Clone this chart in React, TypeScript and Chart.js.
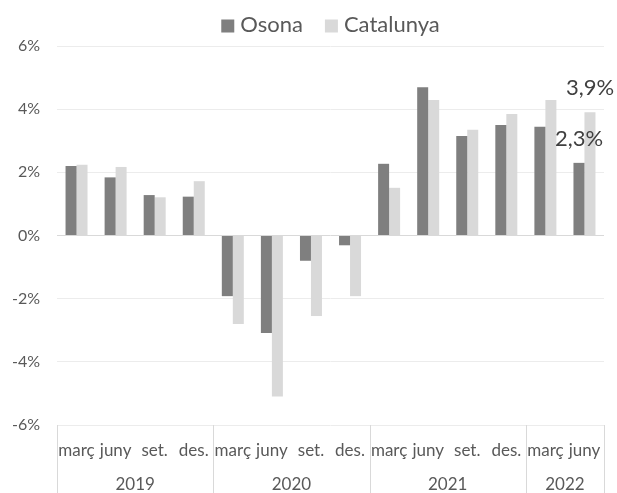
import React, { useEffect, useRef } from 'react';
import { Chart, registerables } from 'chart.js';

Chart.register(...registerables);

const monthNames = ['març', 'juny', 'set.', 'des.'];
const years = ['2019', '2020', '2021', '2022'];
const monthsPerYear = [4, 4, 4, 2];
const osona = [2.2, 1.84, 1.28, 1.23, -1.92, -3.09, -0.8, -0.31, 2.27, 4.69, 3.15, 3.5, 3.44, 2.3];
const catalunya = [2.24, 2.17, 1.21, 1.72, -2.8, -5.1, -2.55, -1.92, 1.51, 4.29, 3.35, 3.85, 4.29, 3.9];
const seriesNames = ['Osona', 'Catalunya'];
const seriesColors = ['#7f7f7f', '#d9d9d9'];
const yTicks = [-6, -4, -2, 0, 2, 4, 6];
const labelledIndex = 13;

const FONT = 'Lato, "Open Sans", sans-serif';

const categories = years.flatMap((yr, i) =>
  monthNames.slice(0, monthsPerYear[i]).map((m) => `${m} ${yr}`)
);

const fmt = (v: number) => v.toFixed(1).replace('.', ',') + '%';

const overlay = {
  id: 'overlay',
  afterDraw(chart: any) {
    const { ctx, chartArea: a } = chart;
    const xs = chart.scales.x;
    const n = categories.length;
    const w = (a.right - a.left) / n;
    ctx.save();

    // x axis two-level labels and separators
    ctx.strokeStyle = '#d9d9d9';
    ctx.lineWidth = 1;
    const sep = (x: number) => {
      const px = Math.round(x) + 0.5;
      ctx.beginPath();
      ctx.moveTo(px, a.bottom);
      ctx.lineTo(px, chart.height);
      ctx.stroke();
    };
    ctx.fillStyle = '#595959';
    ctx.font = `17px ${FONT}`;
    ctx.textAlign = 'center';
    ctx.textBaseline = 'middle';
    let idx = 0;
    sep(a.left);
    years.forEach((yr, yi) => {
      const start = idx;
      for (let k = 0; k < monthsPerYear[yi]; k++) {
        ctx.fillText(monthNames[k], xs.getPixelForValue(idx), 451);
        idx++;
      }
      ctx.fillText(yr, a.left + (start + monthsPerYear[yi] / 2) * w, 485);
      sep(a.left + idx * w);
    });

    // data labels on last category
    ctx.fillStyle = '#404040';
    ctx.font = `22px ${FONT}`;
    [osona, catalunya].forEach((vals, d) => {
      const bar = chart.getDatasetMeta(d).data[labelledIndex];
      ctx.fillText(fmt(vals[labelledIndex]), bar.x, bar.y - 24);
    });

    // legend
    ctx.font = `22px ${FONT}`;
    ctx.textAlign = 'left';
    const box = 13;
    const gapBox = 6;
    const gapItem = 22;
    const widths = seriesNames.map((s) => ctx.measureText(s).width);
    const total = widths.reduce((s, v) => s + v + box + gapBox, 0) + gapItem;
    let x = (a.left + a.right) / 2 - total / 2;
    seriesNames.forEach((s, i) => {
      ctx.fillStyle = seriesColors[i];
      ctx.fillRect(x, 19.5, box, box);
      x += box + gapBox;
      ctx.fillStyle = '#595959';
      ctx.fillText(s, x, 25);
      x += widths[i] + gapItem;
    });
    ctx.restore();
  },
};

export default function App() {
  const ref = useRef<HTMLCanvasElement | null>(null);
  useEffect(() => {
    if (!ref.current) return;
    const chart = new Chart(ref.current, {
      type: 'bar',
      data: {
        labels: categories,
        datasets: [
          { label: seriesNames[0], data: osona, backgroundColor: seriesColors[0] },
          { label: seriesNames[1], data: catalunya, backgroundColor: seriesColors[1] },
        ],
      },
      options: {
        responsive: false,
        animation: false,
        events: [],
        layout: { padding: { top: 46, right: 13, bottom: 68, left: 0 } },
        datasets: { bar: { categoryPercentage: 0.563, barPercentage: 1 } },
        plugins: { legend: { display: false }, tooltip: { enabled: false } },
        scales: {
          x: { display: false, offset: true },
          y: {
            min: -6,
            max: 6,
            afterBuildTicks: (s: any) => {
              s.ticks = yTicks.map((v) => ({ value: v }));
            },
            afterFit: (s: any) => {
              s.width = 57;
            },
            ticks: {
              callback: (v: any) => `${v}%`,
              color: '#595959',
              font: { family: FONT, size: 16 },
              padding: 17,
            },
            grid: {
              color: (c: any) => (c.tick && c.tick.value === 0 ? '#d9d9d9' : '#ececec'),
              drawTicks: false,
            },
            border: { display: false },
          },
        },
      },
      plugins: [overlay],
    });
    return () => chart.destroy();
  }, []);
  return (
    <div style={{ position: 'absolute', left: 0, top: 0, width: 617, height: 493, background: '#fff' }}>
      <canvas ref={ref} width={617} height={493} style={{ width: 617, height: 493, display: 'block' }} />
    </div>
  );
}
